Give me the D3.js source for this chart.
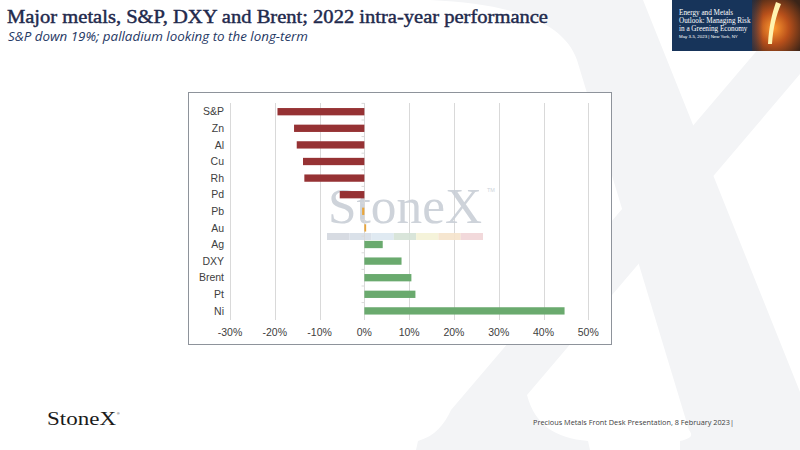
<!DOCTYPE html>
<html><head><meta charset="utf-8">
<script src="https://cdn.jsdelivr.net/npm/d3@7"></script>
<style>
html,body{margin:0;padding:0;background:#fff;}
svg{display:block;}
</style></head>
<body>
<script>
// ---- data ----
const categories = ["S&P","Zn","Al","Cu","Rh","Pd","Pb","Au","Ag","DXY","Brent","Pt","Ni"];
const performance = [-0.194,-0.157,-0.151,-0.137,-0.134,-0.055,-0.005,0.004,0.041,0.083,0.105,0.114,0.447];
const xTicks = [-0.3,-0.2,-0.1,0,0.1,0.2,0.3,0.4,0.5];
const titleText = "Major metals, S&P, DXY and Brent; 2022 intra-year performance";
const subtitleText = "S&P down 19%; palladium looking to the long-term";
const footerText = "Precious Metals Front Desk Presentation, 8 February 2023|";
const bannerLines = ["Energy and Metals","Outlook: Managing Risk","in a Greening Economy"];
const bannerDate = "May 3-5, 2023 | New York, NY";
const stripColors = ["#d3d8df","#d7dee7","#dde8f1","#d5e3d6","#f4f2d6","#f6e4cc","#f1d5d8"];

const W = 800, H = 450;
const svg = d3.select("body").append("svg").attr("width", W).attr("height", H);
const defs = svg.append("defs");

// slide background
svg.append("rect").attr("width", W).attr("height", H).attr("fill", "#ffffff");
// big X watermark (decorative shape)
const xMark = svg.append("g").attr("fill", "#f3f4f6");
xMark.append("path").attr("d",
  "M430,0 L643,0 L800,392 L816,432 C822,437 832,440 845,441 L845,450 L680,450 L680,441 " +
  "C690,439 694,436 689,430 L577,60 C565,25 520,4 430,0 Z");
xMark.append("path").attr("d",
  "M800,0 L863,0 L527,395 C535,425 555,438 588,441 L590,450 L416,450 L418,441 " +
  "C435,436 444,425 451,410 Z");

// title / subtitle
svg.append("text").attr("x", 7).attr("y", 23)
  .attr("font-family", "'Liberation Serif', serif")
  .attr("font-size", 19).attr("fill", "#1f2a4d").attr("stroke", "#1f2a4d").attr("stroke-width", 0.45)
  .attr("textLength", 541).attr("lengthAdjust", "spacingAndGlyphs").text(titleText);
svg.append("text").attr("x", 8).attr("y", 41)
  .attr("font-family", "'Open Sans', 'Noto Sans', sans-serif").attr("font-style", "italic")
  .attr("font-size", 12).attr("fill", "#1f3864").attr("textLength", 300)
  .attr("lengthAdjust", "spacingAndGlyphs").text(subtitleText);

// banner
const fireGrad = defs.append("radialGradient").attr("id", "fire").attr("cx", "45%").attr("cy", "55%").attr("r", "70%");
fireGrad.append("stop").attr("offset", "0%").attr("stop-color", "#ff9a30");
fireGrad.append("stop").attr("offset", "45%").attr("stop-color", "#b9501a");
fireGrad.append("stop").attr("offset", "100%").attr("stop-color", "#3a2418");
const bannerFade = defs.append("linearGradient").attr("id", "bfade").attr("x1", "0%").attr("x2", "100%");
bannerFade.append("stop").attr("offset", "0%").attr("stop-color", "#17345a").attr("stop-opacity", 1);
bannerFade.append("stop").attr("offset", "100%").attr("stop-color", "#17345a").attr("stop-opacity", 0);
const banner = svg.append("g");
banner.append("rect").attr("x", 672).attr("y", 0).attr("width", 128).attr("height", 51).attr("fill", "#17345a");
banner.append("rect").attr("x", 752).attr("y", 0).attr("width", 48).attr("height", 51).attr("fill", "url(#fire)");
banner.append("rect").attr("x", 745).attr("y", 0).attr("width", 18).attr("height", 51).attr("fill", "url(#bfade)");
banner.append("path").attr("d", "M776,2 C772,14 769,26 768,44 L772,44 C773,28 776,16 781,4 Z").attr("fill", "#fff3b0");
bannerLines.forEach((t, i) => {
  banner.append("text").attr("x", 679).attr("y", 15 + i * 7.8)
    .attr("font-family", "'Liberation Serif', serif").attr("font-size", 7.2)
    .attr("fill", "#ffffff").text(t);
});
banner.append("text").attr("x", 679).attr("y", 38)
  .attr("font-family", "'Liberation Sans', sans-serif").attr("font-size", 4.4)
  .attr("fill", "#ffffff").text(bannerDate);

// chart frame
const frame = {x: 188.5, y: 92.5, w: 423, h: 252};
svg.append("rect").attr("x", frame.x).attr("y", frame.y).attr("width", frame.w).attr("height", frame.h)
  .attr("fill", "#ffffff").attr("stroke", "#8e939b").attr("stroke-width", 1);

const x = d3.scaleLinear().domain([-0.3, 0.5]).range([230, 588.3]);
const y = d3.scaleBand().domain(categories).range([103.4, 319.2]).paddingInner(0.56).paddingOuter(0.28);

// gridlines
svg.append("g").selectAll("line").data(xTicks).join("line")
  .attr("x1", d => Math.round(x(d)) + 0.5).attr("x2", d => Math.round(x(d)) + 0.5)
  .attr("y1", 103).attr("y2", 320).attr("stroke", "#d9d9d9").attr("stroke-width", 1);

// StoneX watermark in chart
const wm = svg.append("g").attr("opacity", 0.9);
wm.append("text").attr("x", 405).attr("y", 223).attr("text-anchor", "middle")
  .attr("font-family", "'Liberation Serif', serif").attr("font-size", 50)
  .attr("fill", "#c9cfd7").attr("textLength", 154).attr("lengthAdjust", "spacingAndGlyphs").text("StoneX");
wm.append("text").attr("x", 487).attr("y", 192)
  .attr("font-family", "'Liberation Sans', sans-serif").attr("font-size", 5.5)
  .attr("fill", "#c9cfd7").text("TM");
const stripX = d3.scaleBand().domain(d3.range(stripColors.length)).range([327, 483]);
wm.selectAll("rect.strip").data(stripColors).join("rect").attr("class", "strip")
  .attr("x", (d, i) => stripX(i)).attr("y", 233).attr("width", stripX.bandwidth()).attr("height", 7)
  .attr("fill", d => d);

// zero axis
const axis = d3.axisLeft(y).tickSize(3).tickFormat("");
const axG = svg.append("g").attr("transform", `translate(${Math.round(x(0)) + 0.5},0)`).call(axis);
axG.selectAll("path,line").attr("stroke", "#d9d9d9");
axG.select("path").attr("d", `M0,${y.range()[0]}V${y.range()[1]}`);
axG.selectAll(".tick line").attr("transform", `translate(0,${-y.step()/2})`);

// bars
const barColor = (d, i) => {
  const c = categories[i];
  if (c === "Pb" || c === "Au") return "#e9a53a";
  return d < 0 ? "#963234" : "#6aaa6e";
};
svg.append("g").selectAll("rect").data(performance).join("rect")
  .attr("x", d => x(Math.min(0, d))).attr("width", d => Math.abs(x(d) - x(0)))
  .attr("y", (d, i) => y(categories[i])).attr("height", y.bandwidth())
  .attr("fill", barColor);

// category labels
svg.append("g").selectAll("text").data(categories).join("text")
  .attr("x", 224).attr("y", d => y(d) + y.bandwidth() / 2).attr("dy", "0.35em")
  .attr("text-anchor", "end").attr("font-family", "'Liberation Sans', Arial, sans-serif")
  .attr("font-size", 10.5).attr("fill", "#404040").text(d => d);

// x tick labels
const pct = d => (d < 0 ? "-" : "") + Math.round(Math.abs(d) * 100) + "%";
svg.append("g").selectAll("text").data(xTicks).join("text")
  .attr("x", d => x(d)).attr("y", 336).attr("text-anchor", "middle")
  .attr("font-family", "'Liberation Sans', Arial, sans-serif")
  .attr("font-size", 10.5).attr("fill", "#404040").text(pct);

// footer
svg.append("text").attr("x", 47).attr("y", 425)
  .attr("font-family", "'Liberation Serif', serif").attr("font-size", 18)
  .attr("fill", "#1a1a1a").attr("textLength", 69).attr("lengthAdjust", "spacingAndGlyphs").text("StoneX");
svg.append("text").attr("x", 117).attr("y", 415)
  .attr("font-family", "'Liberation Sans', sans-serif").attr("font-size", 3.5)
  .attr("fill", "#1a1a1a").text("®");
svg.append("text").attr("x", 533).attr("y", 425)
  .attr("font-family", "'Open Sans', sans-serif").attr("font-size", 8)
  .attr("fill", "#404040").attr("textLength", 201).attr("lengthAdjust", "spacingAndGlyphs").text(footerText);
</script>
</body></html>
